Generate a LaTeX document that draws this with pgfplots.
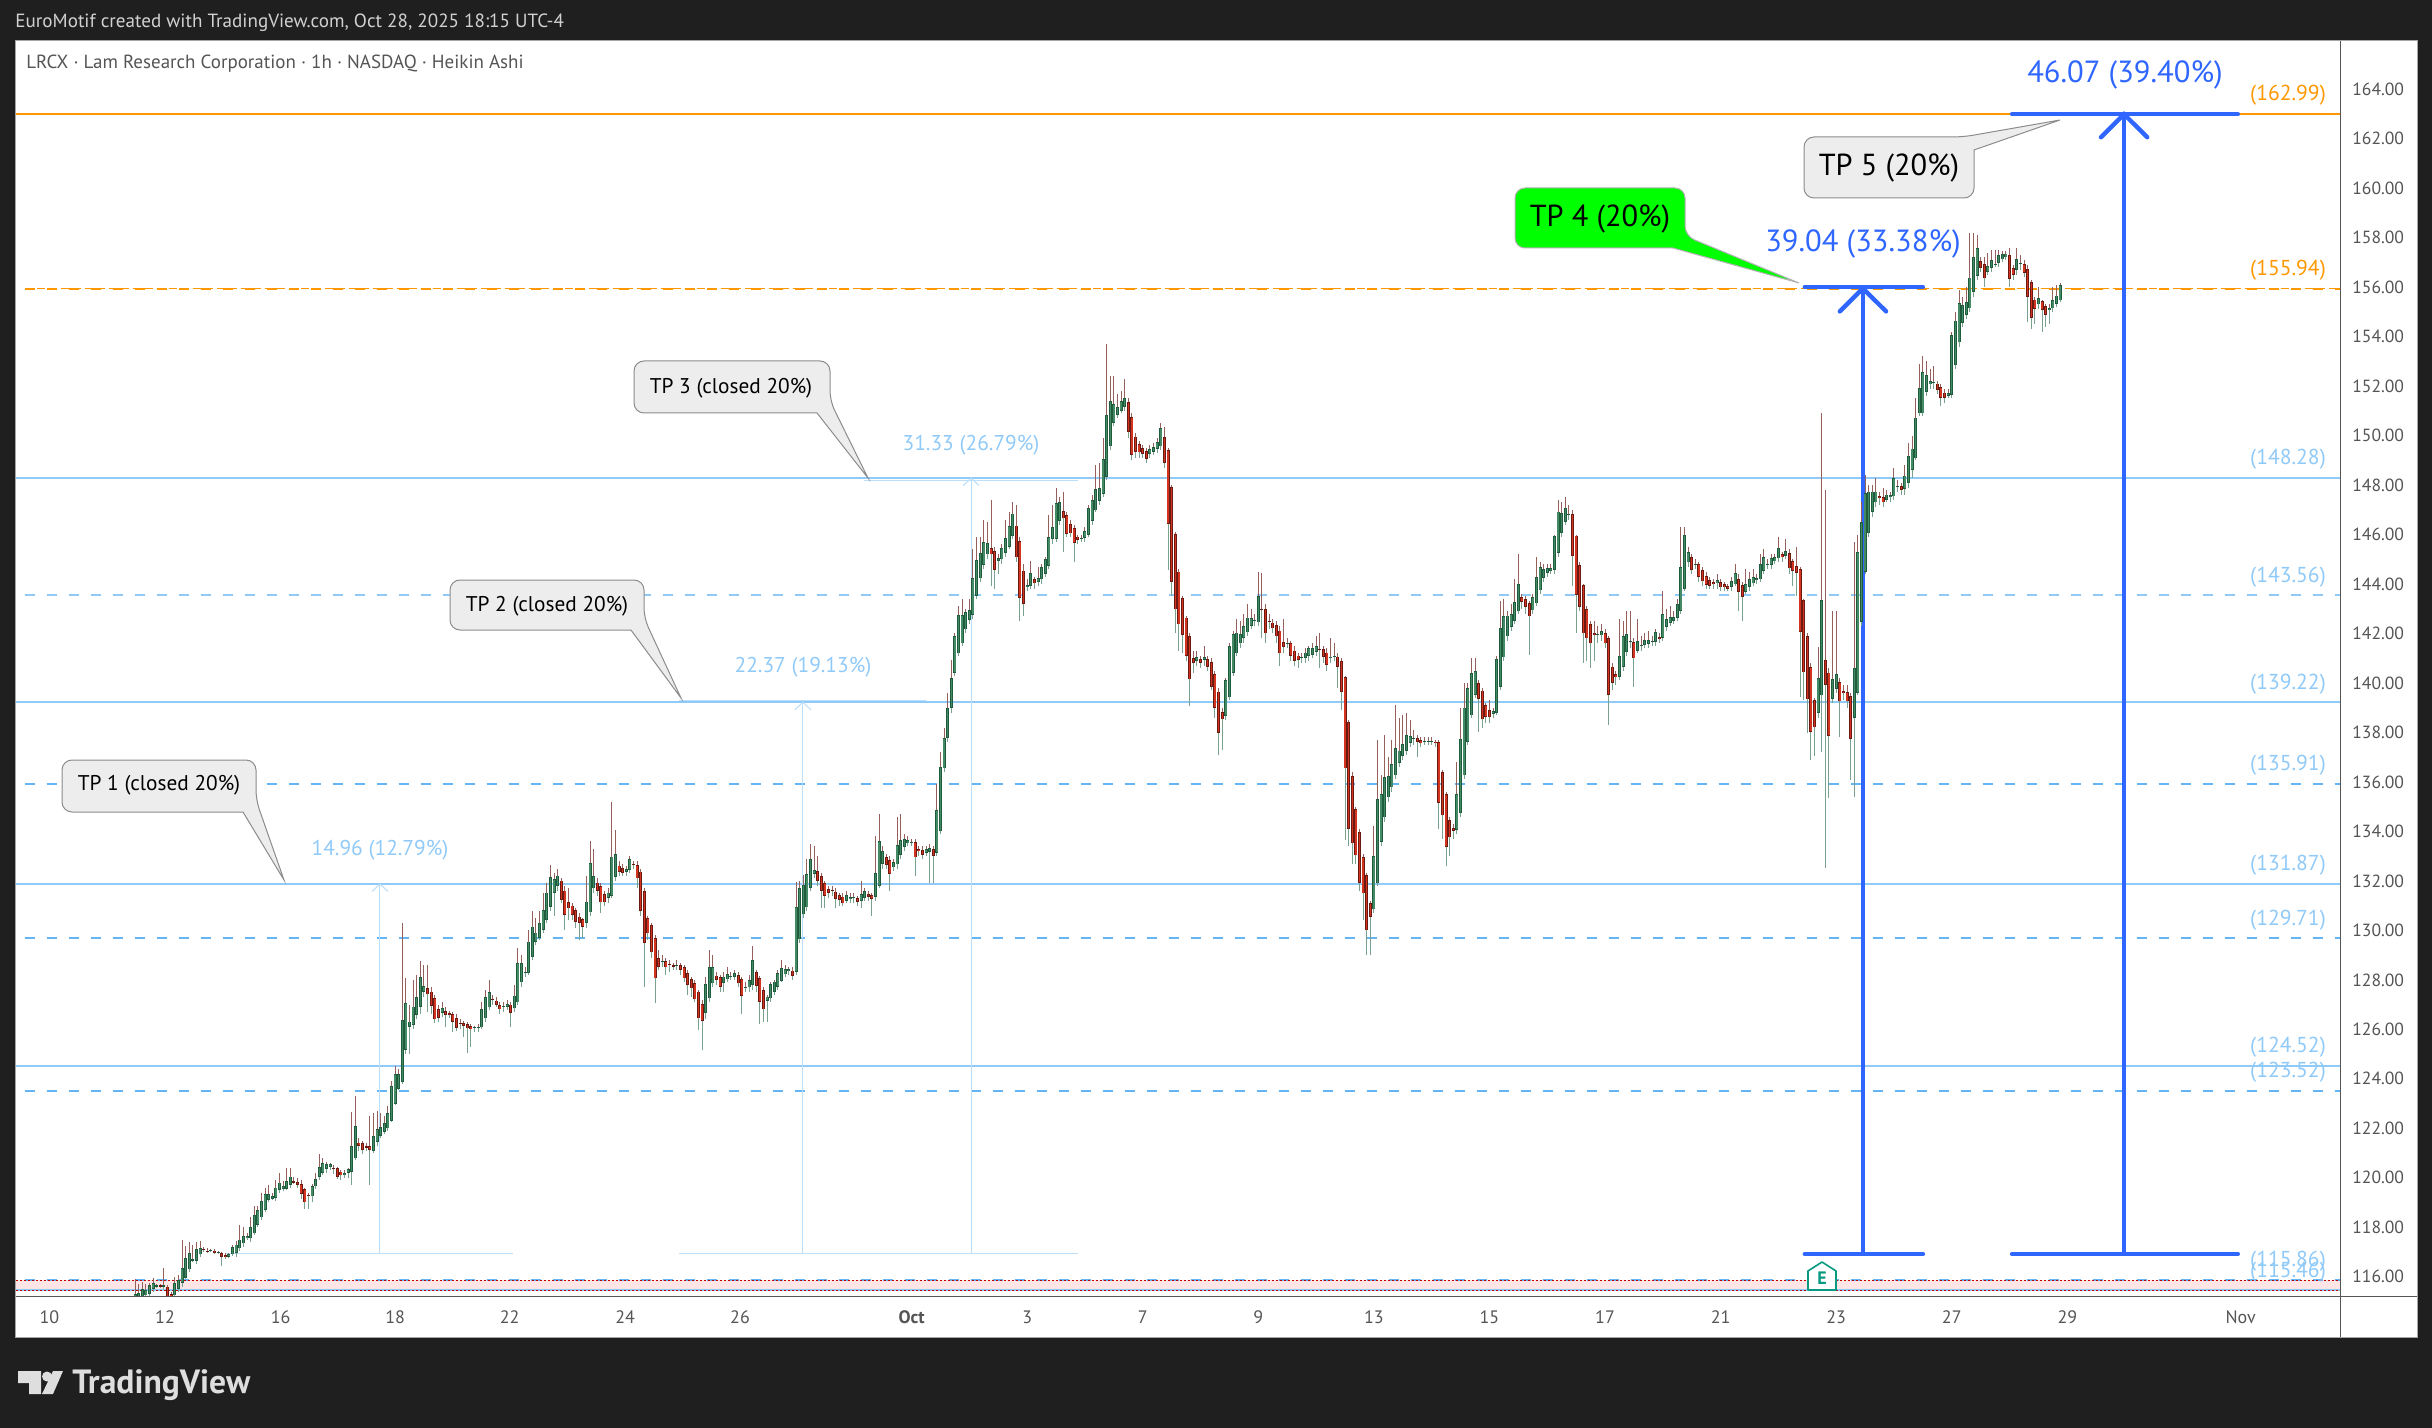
\documentclass[border=0pt]{standalone}
\usepackage{pgfplots}
\usepackage{pgfplotstable}
\usepackage{fontspec}
\setmainfont{PT Sans}
\pgfplotsset{compat=1.18}
\definecolor{dk}{HTML}{1F1F1F}
\definecolor{lb}{HTML}{90CAF9}
\definecolor{mb}{HTML}{64B5F6}
\definecolor{vl}{HTML}{BBDEFB}
\definecolor{org}{HTML}{FF9800}
\definecolor{blu}{HTML}{2F66FF}
\definecolor{upo}{HTML}{1F5C3E}
\definecolor{upi}{HTML}{438A65}
\definecolor{dno}{HTML}{6B1A12}
\definecolor{dni}{HTML}{D2341F}
\definecolor{wkr}{HTML}{95605C}
\definecolor{wkg}{HTML}{7AA08E}
\definecolor{txt}{HTML}{555555}
\definecolor{teal2}{HTML}{089981}
\pgfplotstableread{
o c l h
115.2 115.3 115.1 115.9
115.2 115.35 115.1 115.7
115.2 115.5 115.1 115.8
115.25 115.45 115.1 115.7
115.3 115.65 115.2 115.75
115.5 115.75 115.4 115.95
115.6 115.65 115.55 115.7
115.65 115.6 115.55 115.7
115.6 115.65 115.5 116.35
115.6 115.2 115.1 115.65
115.3 115.2 115.1 115.4
115.25 115.75 115.2 116.0
115.5 115.85 115.4 116.05
115.75 116.35 115.6 117.48
115.95 116.75 115.9 117.25
116.3 116.95 116.2 117.4
116.65 116.7 116.6 117.3
116.65 117.1 116.5 117.4
116.9 117.15 116.8 117.45
117.12 117.07 117.0 117.2
117.05 117.0 116.95 117.15
117.02 117.06 116.98 117.12
117.05 116.95 116.9 117.1
116.96 117.0 116.92 117.05
116.95 116.8 116.45 117.0
116.88 116.78 116.7 116.95
116.8 116.9 116.75 116.95
116.9 117.2 116.85 117.3
116.95 117.3 116.8 117.45
117.15 117.5 117.05 118.1
117.35 117.65 117.2 118.0
117.55 117.65 117.5 117.75
117.55 118.0 117.4 118.4
117.75 118.5 117.7 118.85
118.1 118.7 118.0 118.85
118.4 119.05 118.3 119.4
118.7 119.35 118.6 119.6
119.1 119.35 119.0 119.7
119.15 119.25 119.1 119.4
119.2 119.6 119.05 119.9
119.5 119.8 119.4 120.2
119.55 119.65 119.45 119.85
119.55 119.85 119.5 120.38
119.7 120.05 119.6 120.4
119.85 119.8 119.75 120.05
119.83 119.7 119.6 120.0
119.75 119.35 119.15 119.9
119.55 119.0 118.72 119.6
119.3 119.25 118.72 119.4
119.25 119.65 119.0 119.75
119.65 119.95 119.55 120.2
120.05 120.42 119.9 120.96
120.2 120.6 120.1 120.8
120.35 120.55 120.2 120.65
120.45 120.55 120.3 120.6
120.4 120.35 120.15 120.5
120.4 120.05 119.95 120.45
120.25 120.1 119.9 120.3
120.1 120.2 120.0 120.3
120.2 120.34 120.0 120.4
120.25 121.28 119.7 122.67
120.78 122.09 120.7 123.3
121.42 121.28 121.1 121.6
121.39 121.12 120.95 121.5
121.28 121.22 121.1 121.4
121.28 121.12 119.7 122.5
121.1 121.69 121.0 122.6
121.46 121.96 121.3 122.7
121.7 122.06 121.6 122.6
121.86 122.2 121.75 122.5
122.0 122.6 121.9 122.9
122.3 123.7 122.25 123.9
123.0 124.2 122.95 124.5
123.6 124.2 123.55 124.4
123.88 126.38 123.8 130.3
125.17 127.05 125.0 128.06
126.11 126.31 125.0 127.0
126.18 126.92 126.0 128.0
126.58 127.29 126.4 128.2
126.92 128.1 126.6 128.75
127.52 127.76 127.3 128.6
127.66 127.41 126.7 128.6
127.52 126.96 126.6 127.7
127.25 126.4 126.25 127.4
126.81 126.47 126.3 127.0
126.65 126.85 126.5 127.1
126.74 126.58 126.1 126.9
126.65 126.58 126.45 126.75
126.61 126.31 125.9 126.7
126.45 126.07 125.95 126.6
126.27 126.22 126.0 126.4
126.24 126.13 125.7 126.35
126.22 126.04 125.06 126.3
126.13 126.0 125.3 126.2
126.04 126.09 125.9 126.15
126.07 126.11 125.9 126.2
126.08 126.81 126.0 127.1
126.44 127.29 126.3 127.6
126.89 127.5 126.8 128.0
127.21 127.17 127.0 127.4
127.16 126.98 126.9 127.3
126.98 126.81 126.6 127.1
126.9 126.95 126.7 127.1
126.92 127.01 126.8 127.2
127.0 126.67 126.1 127.1
126.85 127.36 126.7 127.8
127.09 128.67 127.0 129.3
127.9 128.67 127.7 129.0
128.27 128.32 128.1 128.5
128.29 129.54 128.2 130.0
128.94 130.15 128.8 130.8
129.54 129.91 129.4 130.5
129.7 130.29 129.6 130.8
130.02 130.82 129.9 131.5
130.42 131.53 130.3 131.9
130.96 132.15 130.8 132.64
131.53 132.06 130.6 132.3
131.81 132.21 131.6 132.5
132.01 131.23 131.1 132.1
131.61 130.62 130.0 131.8
131.13 130.89 130.4 131.7
131.0 130.62 130.4 131.1
130.82 130.33 130.1 130.9
130.56 130.29 129.6 130.7
130.45 130.15 129.7 130.5
130.29 131.16 130.1 132.2
130.73 132.71 130.6 133.6
131.7 132.2 131.5 133.3
131.93 131.61 131.4 132.1
131.8 131.13 130.7 131.9
131.46 131.13 131.0 131.6
131.3 131.53 131.1 131.7
131.4 132.98 131.3 135.19
132.17 133.07 132.0 134.05
132.62 132.37 132.2 132.8
132.51 132.31 132.2 132.7
132.37 132.47 132.2 132.6
132.44 132.87 132.3 133.0
132.67 132.64 132.5 132.8
132.64 132.1 131.7 132.8
132.37 130.8 130.6 132.5
131.6 129.48 127.73 131.7
130.5 129.88 129.6 130.6
130.2 129.11 128.9 130.3
129.68 128.06 127.08 129.8
128.87 128.53 128.4 129.2
128.72 128.77 128.5 129.0
128.75 128.5 128.2 128.9
128.63 128.58 128.3 128.8
128.59 128.53 128.4 128.7
128.57 128.6 128.4 128.8
128.59 128.4 128.2 128.7
128.51 128.06 127.9 128.6
128.26 127.79 127.4 128.4
128.02 127.66 127.3 128.1
127.86 127.21 127.1 128.0
127.52 126.44 125.97 127.6
127.01 126.35 125.16 127.2
126.65 127.82 126.4 128.1
127.25 128.51 127.1 129.2
127.86 128.51 127.7 129.0
128.17 128.0 127.8 128.3
128.1 127.73 127.5 128.2
127.89 128.13 127.5 128.3
128.02 128.24 127.9 128.5
128.13 128.17 128.0 128.3
128.13 128.26 128.0 128.4
128.2 127.86 127.7 128.3
128.02 127.36 126.6 128.1
127.68 127.72 127.5 127.9
127.7 128.0 127.5 128.2
127.79 128.8 127.6 129.35
128.3 127.75 127.5 128.4
128.06 127.12 126.2 128.15
127.59 126.81 126.3 127.7
127.16 127.32 126.3 127.4
127.25 127.82 127.1 127.9
127.52 127.93 127.4 128.0
127.73 128.26 127.6 128.4
127.97 128.47 127.9 128.8
128.22 128.43 128.1 128.6
128.35 128.43 128.2 128.5
128.37 128.17 128.0 128.5
128.33 130.93 128.2 131.97
129.64 131.7 129.5 132.0
130.65 131.84 130.5 132.25
130.93 132.28 130.8 132.9
131.73 132.89 131.6 133.5
132.28 132.44 132.1 133.4
132.4 132.01 131.8 133.0
132.2 131.61 130.9 132.3
131.9 131.4 130.9 132.0
131.66 131.53 131.3 131.8
131.63 131.58 131.4 131.8
131.57 131.26 130.9 131.7
131.43 131.23 131.0 131.5
131.36 131.09 131.0 131.5
131.2 131.43 131.1 131.6
131.27 131.34 131.1 131.5
131.3 131.34 131.1 131.5
131.3 131.16 131.0 131.4
131.2 131.47 130.9 132.0
131.3 131.6 131.2 131.7
131.46 131.36 131.2 131.6
131.43 131.26 130.6 131.5
131.34 132.31 131.2 133.8
131.81 133.61 131.7 134.7
132.68 133.21 132.5 133.4
132.95 132.64 132.5 133.1
132.85 132.28 131.6 133.0
132.55 132.75 132.4 132.9
132.67 133.45 132.5 134.6
133.05 133.65 132.9 134.7
133.36 133.7 133.2 133.9
133.52 133.65 133.4 133.8
133.54 133.58 133.4 133.7
133.56 132.95 132.2 133.7
133.29 133.21 133.0 133.4
133.25 133.05 132.9 133.4
133.14 133.28 133.0 133.4
133.18 133.32 131.9 133.5
133.28 133.02 131.9 133.4
133.14 134.87 133.0 135.9
134.0 136.59 133.9 137.2
136.55 137.77 136.4 138.2
137.77 138.98 137.6 139.6
138.98 140.19 138.8 140.93
140.42 141.9 140.3 142.0
141.2 142.75 141.1 143.1
141.6 142.75 141.5 143.4
142.17 142.85 142.0 143.0
142.55 142.95 142.4 143.4
142.75 144.23 142.6 145.4
143.52 144.98 143.4 145.9
144.23 145.25 144.1 145.9
144.77 145.69 144.6 146.6
145.2 145.65 145.0 146.5
145.45 145.2 143.9 147.4
145.34 144.57 143.8 145.5
144.95 145.04 144.4 145.2
145.0 145.45 144.8 145.6
145.25 145.85 145.1 146.6
145.5 146.35 145.4 146.9
145.95 146.84 145.8 147.3
146.36 145.08 144.9 147.2
145.73 143.43 142.5 145.9
144.54 143.2 142.7 144.8
143.87 143.96 143.7 144.2
143.92 144.44 143.8 144.95
144.19 144.03 143.8 144.3
144.1 144.23 143.9 144.7
144.19 144.68 144.0 144.8
144.41 145.0 144.3 145.1
144.73 145.89 144.6 146.8
145.81 146.3 145.6 147.2
145.81 147.27 145.7 147.9
146.55 147.31 146.4 147.5
146.94 146.65 145.3 147.7
146.77 146.03 145.9 146.9
146.43 146.05 145.9 146.6
146.26 145.65 144.9 146.4
145.92 145.79 145.6 146.0
145.84 145.88 145.7 146.0
145.86 146.13 145.7 146.3
146.0 147.06 145.9 147.2
146.54 147.4 146.4 147.6
146.98 147.83 146.9 148.8
147.37 147.87 147.2 148.9
147.64 149.05 147.5 149.9
148.32 150.84 148.2 153.7
149.56 151.38 149.4 152.4
150.5 151.27 150.4 152.4
150.85 151.15 150.7 151.7
151.0 151.38 150.9 151.8
151.17 151.51 151.0 152.3
151.34 150.16 149.9 151.5
150.74 149.22 149.0 150.9
149.96 149.33 149.1 150.1
149.65 149.32 149.1 149.8
149.49 149.25 149.1 149.6
149.37 149.07 148.9 149.5
149.25 149.45 149.1 149.6
149.35 149.53 149.2 149.7
149.45 149.73 149.3 149.9
149.56 150.3 149.4 150.5
149.94 148.91 148.7 150.35
149.4 146.42 144.57 149.5
147.91 144.1 143.5 148.0
146.01 142.98 142.0 146.1
144.5 142.37 141.3 144.6
143.43 141.93 141.2 143.5
142.64 141.11 140.9 142.7
141.88 140.15 139.05 142.0
141.0 140.8 140.4 141.3
140.9 141.04 140.7 141.3
140.96 140.82 140.6 141.1
140.93 141.04 140.7 141.5
140.96 140.66 140.5 141.1
140.84 139.85 139.7 141.0
140.35 138.98 138.6 140.5
139.65 137.99 137.08 139.8
138.82 138.53 137.3 139.0
138.68 140.1 138.5 140.2
139.42 141.5 139.3 141.6
140.42 141.97 140.3 142.1
141.2 142.04 141.1 142.6
141.6 141.97 141.4 142.5
141.81 142.31 141.6 142.8
142.05 142.64 141.9 143.2
142.32 142.62 142.2 143.0
142.49 142.53 142.3 142.8
142.45 143.52 142.3 144.5
142.98 142.93 141.8 144.45
142.98 142.01 141.6 143.2
142.52 142.47 142.2 142.8
142.44 142.21 142.0 142.6
142.33 141.88 141.6 142.5
142.12 141.2 140.7 142.3
141.65 141.47 141.2 142.6
141.58 141.62 141.4 141.8
141.6 141.09 140.9 141.7
141.31 140.9 140.7 141.5
141.11 140.93 140.6 141.2
141.02 141.06 140.8 141.2
141.0 141.23 140.8 141.4
141.09 141.4 140.9 141.5
141.14 141.4 141.0 141.6
141.27 141.5 141.1 141.9
141.36 141.32 140.6 142.0
141.36 141.07 140.8 141.5
141.23 140.72 140.5 141.4
141.0 141.07 140.8 141.8
141.05 141.09 140.9 141.6
141.07 140.66 139.8 141.2
140.88 139.63 138.9 141.0
140.23 136.55 133.65 140.3
138.41 134.09 133.4 138.5
136.23 133.52 132.7 136.4
134.9 133.03 132.7 135.0
133.96 131.93 131.6 134.1
132.95 131.5 130.4 133.1
132.23 130.0 129.0 132.3
131.09 130.56 129.0 131.2
130.85 133.0 130.7 134.2
131.9 135.3 131.8 137.7
133.59 135.5 133.4 136.3
134.57 136.19 134.4 137.9
135.38 136.23 135.2 137.0
135.78 136.71 135.6 137.7
136.27 137.36 136.1 139.1
136.78 137.27 136.6 138.6
137.04 137.52 136.9 138.7
137.27 137.89 137.1 138.8
137.59 137.86 137.4 138.5
137.73 137.77 137.5 138.1
137.77 137.63 137.0 137.9
137.7 137.56 137.4 137.8
137.62 137.66 137.5 137.8
137.63 137.67 137.5 137.8
137.63 137.67 137.5 137.8
137.63 137.56 137.4 137.7
137.6 135.16 134.1 137.7
136.39 134.65 133.7 136.5
135.5 133.38 132.6 135.6
134.45 133.76 133.0 134.6
134.13 134.03 133.7 134.3
134.07 135.5 133.9 136.8
134.76 137.73 134.6 139.0
136.27 139.0 136.1 140.0
137.63 139.79 137.5 140.0
138.69 140.39 138.6 141.0
139.53 140.47 139.4 141.0
140.0 139.37 138.03 140.1
139.69 138.53 138.2 139.8
139.1 138.64 138.4 139.2
138.9 138.61 138.4 139.3
138.74 138.87 138.6 139.0
138.78 140.96 138.7 141.1
139.85 142.21 139.7 143.3
141.03 142.7 140.9 143.4
141.88 142.72 141.7 142.9
142.28 142.78 142.1 143.2
142.52 143.26 142.4 144.2
142.89 144.0 142.8 145.2
143.47 143.29 143.0 143.6
143.39 143.09 142.8 143.5
143.22 142.69 141.13 143.3
142.93 143.47 142.8 143.6
143.22 144.27 143.1 145.1
143.74 144.67 143.6 144.9
144.24 144.6 144.1 144.8
144.44 144.64 144.3 144.8
144.52 144.64 144.4 144.8
144.56 145.93 144.4 146.0
145.25 146.93 145.1 147.4
146.08 146.86 145.9 147.3
146.5 147.06 146.4 147.5
146.77 146.82 146.6 147.2
146.82 145.15 143.9 147.0
145.96 143.56 142.0 146.0
144.76 143.09 142.9 144.9
143.95 142.01 140.8 144.0
142.98 141.8 140.9 143.1
142.37 141.6 140.6 142.5
142.01 141.92 140.9 142.5
141.95 141.99 141.6 142.3
141.92 142.09 141.7 142.4
142.01 141.6 141.4 142.2
141.81 139.53 138.3 141.9
140.66 139.99 139.7 140.8
140.37 140.23 139.9 140.5
140.26 141.08 140.1 142.6
140.66 141.9 140.5 142.5
141.27 141.97 141.1 142.9
141.64 141.68 141.4 142.9
141.65 140.99 139.85 141.8
141.31 141.69 141.2 142.6
141.51 141.55 141.3 141.9
141.53 141.74 141.4 142.0
141.59 141.74 141.4 142.1
141.67 141.71 141.5 141.9
141.65 142.06 141.5 142.2
141.85 141.77 141.6 142.0
141.81 142.78 141.7 143.7
142.28 142.58 142.1 143.0
142.44 142.66 142.3 143.1
142.52 142.66 142.4 142.9
142.62 143.18 142.5 143.4
142.9 144.68 142.8 146.3
143.79 145.97 143.7 146.3
144.88 145.28 144.7 145.5
145.08 144.56 144.4 145.2
144.78 144.82 144.6 145.0
144.8 144.3 144.1 144.9
144.56 144.11 143.9 144.7
144.32 143.98 143.8 144.5
144.15 143.94 143.8 144.3
144.07 143.99 143.8 144.2
144.03 144.17 143.8 144.4
144.07 143.86 143.7 144.2
143.99 143.86 143.7 144.1
143.91 143.79 143.7 144.0
143.87 144.11 143.7 144.3
143.99 144.44 143.9 144.8
144.19 143.69 142.9 144.4
143.95 143.47 142.52 144.1
143.69 143.99 143.6 144.6
143.87 144.19 143.7 144.5
144.03 144.27 143.9 144.6
144.17 144.24 144.0 144.4
144.19 144.8 144.1 145.2
144.52 145.08 144.4 145.4
144.78 144.82 144.6 145.0
144.76 145.04 144.6 145.2
144.92 145.08 144.8 145.2
145.04 145.45 144.9 145.9
145.2 145.08 144.9 145.3
145.15 145.34 145.0 145.8
145.25 144.63 144.4 145.4
144.92 144.52 143.9 145.0
144.72 144.44 143.5 145.5
144.6 142.08 139.45 144.7
143.34 140.43 139.3 143.4
141.89 139.34 137.97 142.0
140.64 138.01 136.9 140.8
139.3 138.21 137.05 139.4
138.78 140.19 138.6 141.47
139.5 143.34 137.2 150.9
140.92 139.91 132.54 147.8
140.42 137.85 135.36 140.6
139.37 140.15 139.2 142.9
139.75 140.35 139.6 142.9
140.03 139.26 137.8 140.2
139.66 139.58 139.3 139.9
139.63 139.26 139.0 139.9
139.46 137.73 136.08 139.6
138.6 140.6 135.4 145.7
139.6 145.3 139.5 146.0
142.46 146.5 142.3 147.3
144.49 147.66 144.4 148.4
146.06 147.73 145.9 148.0
146.92 147.73 146.7 148.0
147.3 147.73 147.1 148.3
147.54 147.46 147.2 147.7
147.5 147.3 147.1 147.9
147.41 147.61 147.3 147.8
147.5 147.58 147.3 147.7
147.54 148.28 147.4 148.7
147.94 147.98 147.7 148.2
147.95 147.81 147.6 148.1
147.84 148.38 147.6 148.8
148.1 149.16 147.9 149.7
148.62 149.47 148.3 150.0
149.08 150.73 149.0 151.5
150.9 151.91 150.8 152.9
150.9 152.56 150.8 153.2
151.76 152.44 151.6 153.0
152.07 152.2 151.9 152.7
152.11 152.15 151.9 152.8
152.1 151.84 151.7 152.2
151.97 151.51 151.2 152.1
151.74 151.51 151.3 151.9
151.6 151.71 151.5 151.9
151.66 154.07 151.5 154.2
152.87 154.65 152.7 155.0
153.77 155.35 153.6 155.9
154.57 155.27 154.4 155.6
154.88 155.38 154.7 156.0
155.14 156.38 155.0 158.2
155.81 157.2 155.6 158.2
156.47 157.57 156.3 158.1
157.05 156.78 156.6 157.2
156.92 156.35 156.0 157.2
156.63 156.86 156.5 157.4
156.77 157.08 156.6 157.5
156.91 156.95 156.8 157.5
156.97 157.28 156.8 157.5
157.12 157.32 157.0 157.45
157.2 157.35 157.1 157.45
157.28 156.32 156.0 157.6
156.78 156.5 156.3 156.9
156.7 157.13 156.5 157.6
156.92 156.96 156.7 157.3
156.92 156.58 156.4 157.1
156.74 155.62 154.6 156.9
156.2 154.77 154.3 156.3
155.5 155.11 154.5 155.6
155.3 155.55 155.1 156.0
155.42 155.07 154.2 155.5
155.22 154.88 154.4 155.3
155.07 155.16 154.5 155.3
155.14 155.47 155.0 156.0
155.32 155.66 155.2 156.1
155.47 156.07 155.4 156.15
}\candles
% Split the table into per-candle segment lists (one path per style keeps memory low)
\pgfplotstableforeachcolumnelement{o}\of\candles\as\cell{\expandafter\xdef\csname cO\pgfplotstablerow\endcsname{\cell}}
\pgfplotstableforeachcolumnelement{c}\of\candles\as\cell{\expandafter\xdef\csname cC\pgfplotstablerow\endcsname{\cell}}
\pgfplotstableforeachcolumnelement{l}\of\candles\as\cell{\expandafter\xdef\csname cL\pgfplotstablerow\endcsname{\cell}}
\pgfplotstableforeachcolumnelement{h}\of\candles\as\cell{\expandafter\xdef\csname cH\pgfplotstablerow\endcsname{\cell}}
\pgfplotstablegetrowsof{\candles}\edef\Nrows{\pgfplotsretval}
\gdef\lWR{}\gdef\lWG{}\gdef\lUO{}\gdef\lDO{}\gdef\lUI{}\gdef\lDI{}
\newcount\ci \ci=0
\def\seg#1#2#3{\xdef#1{#1(\the\ci,#2)(\the\ci,#3)(\the\ci,nan)}}
\loop
  \edef\vO{\csname cO\the\ci\endcsname}\edef\vC{\csname cC\the\ci\endcsname}%
  \edef\vL{\csname cL\the\ci\endcsname}\edef\vH{\csname cH\the\ci\endcsname}%
  \ifdim\vC pt<\vO pt\let\vT\vO\let\vB\vC\else\let\vT\vC\let\vB\vO\fi
  \seg\lWR\vT\vH \seg\lWG\vL\vB
  \pgfmathsetmacro\vA{\vB+0.03}\pgfmathsetmacro\vZ{\vT-0.03}%
  \ifdim\vC pt<\vO pt
    \seg\lDO\vB\vT
    \ifdim\vZ pt>\vA pt\seg\lDI\vA\vZ\fi
  \else
    \seg\lUO\vB\vT
    \ifdim\vZ pt>\vA pt\seg\lUI\vA\vZ\fi
  \fi
  \advance\ci by 1
\ifnum\ci<\Nrows\repeat
\def\pl#1#2{\expandafter\plx\expandafter{#1}{#2}}
\def\plx#1#2{\addplot[#2, no marks, forget plot, unbounded coords=jump] coordinates {#1};}
\begin{document}
\begin{tikzpicture}
\useasboundingbox (0,0) rectangle (1216pt,-714pt);
\fill[dk] (0,0) rectangle (1216pt,-714pt);
\begin{scope}[x=0.5pt,y=-0.5pt]
\fill[white] (15.5,41) rectangle (2417,1337);
\end{scope}
\begin{axis}[
  at={(7.75pt,-20.5pt)}, anchor=north west, scale only axis,
  width=1162.25pt, height=627.5pt,
  xmin=-33.1, xmax=610.5, ymin=115.22, ymax=165.95,
  axis line style={draw=none},
  major tick length=0pt,
  xtick={-23.7,8.3,40.3,72,103.7,135.7,167.5,215,247,279,311,343,375,407,439,471,503,535,583},
  xticklabels={10,12,16,18,22,24,26,\textbf{Oct},3,7,9,13,15,17,21,23,27,29,Nov},
  ytick={116,118,...,164},
  yticklabel pos=right,
  /pgf/number format/assume math mode=true,
  /pgf/number format/fixed, /pgf/number format/fixed zerofill, /pgf/number format/precision=2,
  /pgf/number format/1000 sep={},
  xticklabel style={yshift=-3.8pt, text=txt, font=\fontsize{9pt}{11pt}\selectfont},
  yticklabel style={xshift=2.6pt, text=txt, font=\fontsize{8.8pt}{11pt}\selectfont},
]
% band and levels
\addplot[draw=none, fill=red!10!white] coordinates {(-33.1,115.46) (610.5,115.46) (610.5,115.86) (-33.1,115.86)} -- cycle;
\addplot[lb, line width=1pt] coordinates {(-33.1,115.46) (610.5,115.46)};
\addplot[mb, line width=1pt, dash pattern=on 5pt off 6pt] coordinates {(-30.6,115.86) (610.5,115.86)};
\addplot[red!75!black, line width=0.5pt, dash pattern=on 1pt off 1pt] coordinates {(-33.1,115.86) (610.5,115.86)};
\addplot[red!75!black, line width=0.5pt, dash pattern=on 1pt off 1pt] coordinates {(-33.1,115.46) (610.5,115.46)};
\addplot[mb, line width=1pt, dash pattern=on 5pt off 6pt] coordinates {(-30.6,123.52) (610.5,123.52)};
\addplot[lb, line width=1pt] coordinates {(-33.1,124.52) (610.5,124.52)};
\addplot[mb, line width=1pt, dash pattern=on 5pt off 6pt] coordinates {(-30.6,129.71) (610.5,129.71)};
\addplot[lb, line width=1pt] coordinates {(-33.1,131.87) (610.5,131.87)};
\addplot[mb, line width=1pt, dash pattern=on 5pt off 6pt] coordinates {(-30.6,135.91) (610.5,135.91)};
\addplot[lb, line width=1pt] coordinates {(-33.1,139.22) (610.5,139.22)};
\addplot[lb, line width=1pt, dash pattern=on 5pt off 6pt] coordinates {(-30.6,143.56) (610.5,143.56)};
\addplot[lb, line width=1pt] coordinates {(-33.1,148.28) (610.5,148.28)};
\addplot[org, line width=0.5pt, dash pattern=on 4pt off 2pt] coordinates {(-30.6,155.94) (610.5,155.94)};
\addplot[org, line width=1pt, dash pattern=on 5pt off 6pt] coordinates {(-30.6,155.94) (610.5,155.94)};
\addplot[org, line width=1pt] coordinates {(-33.1,162.99) (610.5,162.99)};
% faint measuring tools
\addplot[vl, line width=0.5pt] coordinates {(24.9,116.92) (104.7,116.92)};
\addplot[vl, line width=0.5pt] coordinates {(67.8,116.92) (67.8,131.87)};
\addplot[vl, line width=0.5pt] coordinates {(65.6,131.57) (67.8,131.87) (70,131.57)};
\addplot[vl, line width=0.5pt] coordinates {(150.6,116.92) (219,116.92)};
\addplot[vl, line width=0.5pt] coordinates {(184.9,116.92) (184.9,139.22)};
\addplot[vl, line width=0.5pt] coordinates {(182.7,138.92) (184.9,139.22) (187.1,138.92)};
\addplot[vl, line width=0.5pt] coordinates {(150.6,139.3) (219,139.3)};
\addplot[vl, line width=0.5pt] coordinates {(201.8,116.92) (261,116.92)};
\addplot[vl, line width=0.5pt] coordinates {(231.5,116.92) (231.5,148.28)};
\addplot[vl, line width=0.5pt] coordinates {(229.3,147.98) (231.5,148.28) (233.7,147.98)};
\addplot[vl, line width=0.5pt] coordinates {(201.8,148.2) (261,148.2)};
% bold measuring tools
\addplot[blu, line width=2.2pt, line cap=round] coordinates {(462.3,116.92) (495,116.92)};
\addplot[blu, line width=2.2pt] coordinates {(478.4,116.92) (478.4,155.95)};
\addplot[blu, line width=2.2pt, line cap=round] coordinates {(472,155.02) (478.4,155.95) (484.8,155.02)};
\addplot[blu, line width=2.2pt, line cap=round] coordinates {(462.3,156) (495,156)};
\addplot[blu, line width=2.2pt, line cap=round] coordinates {(519.7,116.92) (582.2,116.92)};
\addplot[blu, line width=2.2pt] coordinates {(550.7,116.92) (550.7,162.99)};
\addplot[blu, line width=2.2pt, line cap=round] coordinates {(544.3,162.06) (550.7,162.99) (557.1,162.06)};
\addplot[blu, line width=2.2pt, line cap=round] coordinates {(519.7,162.99) (582.2,162.99)};
% candles
\pl\lWR{wkr, line width=0.5pt}
\pl\lWG{wkg, line width=0.5pt}
\pl\lUO{upo, line width=1.5pt}
\pl\lDO{dno, line width=1.5pt}
\pl\lUI{upi, line width=0.7pt}
\pl\lDI{dni, line width=0.7pt}
\end{axis}
\begin{scope}[x=0.5pt,y=-0.5pt]
% frame
\draw[color=txt, line width=0.5pt] (15.5,1296) -- (2417,1296);
\draw[color=txt, line width=0.5pt] (2340,41) -- (2340,1337);
\draw[color=gray!70, line width=0.5pt] (15.5,41) rectangle (2417,1337);
% header
\node[anchor=west, inner sep=0pt, text=white!82!black, font=\fontsize{9.55pt}{11pt}\selectfont] at (15,23) {EuroMotif created with TradingView.com, Oct 28, 2025 18:15 UTC-4};
\node[anchor=west, inner sep=0pt, text=txt, font=\fontsize{9.5pt}{11pt}\selectfont] at (26,64) {LRCX · Lam Research Corporation · 1h · NASDAQ · Heikin Ashi};
% right labels
\foreach \y/\t in {95/162.99,270/155.94}
  \node[text=org, font=\fontsize{10.8pt}{12pt}\selectfont] at (2288,\y) {(\t)};
\foreach \y/\t in {459/148.28,577/143.56,684/139.22,765/135.91,865/131.87,920/129.71,1047/124.52,1072/123.52,1261/115.86,1272/115.46}
  \node[text=lb, font=\fontsize{10.8pt}{12pt}\selectfont] at (2288,\y) {(\t)};
% tool labels
\node[text=lb, font=\fontsize{10.7pt}{12pt}\selectfont] at (380,850) {14.96 (12.79\%)};
\node[text=lb, font=\fontsize{10.7pt}{12pt}\selectfont] at (803,667) {22.37 (19.13\%)};
\node[text=lb, font=\fontsize{10.7pt}{12pt}\selectfont] at (971,445) {31.33 (26.79\%)};
\node[text=blu, font=\fontsize{15.3pt}{17pt}\selectfont] at (1863,244) {39.04 (33.38\%)};
\node[text=blu, font=\fontsize{15.3pt}{17pt}\selectfont] at (2125,75) {46.07 (39.40\%)};
% callouts
\draw[fill=black!7, draw=gray!90, line width=0.5pt, rounded corners=5pt] (62,760) -- (256,760) -- (256,800) [sharp corners] -- (284,880) -- (243,812) [rounded corners=5pt] -- (62,812) -- cycle;
\node[font=\fontsize{10.65pt}{12pt}\selectfont] at (159,785) {TP 1 (closed 20\%)};
\draw[fill=black!7, draw=gray!90, line width=0.5pt, rounded corners=5pt] (450,580) -- (644,580) -- (644,618) [sharp corners] -- (681,698) -- (631,630) [rounded corners=5pt] -- (450,630) -- cycle;
\node[font=\fontsize{10.65pt}{12pt}\selectfont] at (547,606) {TP 2 (closed 20\%)};
\draw[fill=black!7, draw=gray!90, line width=0.5pt, rounded corners=5pt] (634,361) -- (830,361) -- (830,401) [sharp corners] -- (868,478) -- (817,413) [rounded corners=5pt] -- (634,413) -- cycle;
\node[font=\fontsize{10.65pt}{12pt}\selectfont] at (731,388) {TP 3 (closed 20\%)};
\draw[fill={rgb,255:red,0;green,255;blue,0}, draw=gray!60, line width=0.5pt, rounded corners=5pt] (1515,188) -- (1685,188) -- (1685,236) [sharp corners] -- (1799,283) -- (1673,248) [rounded corners=5pt] -- (1515,248) -- cycle;
\node[font=\fontsize{15.2pt}{17pt}\selectfont] at (1600,219) {TP 4 (20\%)};
\draw[fill=black!7, draw=gray!90, line width=0.5pt, rounded corners=5pt] (1804,137) -- (1963,137) [sharp corners] -- (2060,120) -- (1974,150) [rounded corners=5pt] -- (1974,198) -- (1804,198) -- cycle;
\node[font=\fontsize{15.2pt}{17pt}\selectfont] at (1889,168) {TP 5 (20\%)};
% earnings badge
\draw[fill=white, draw=teal2, line width=0.8pt, line join=round] (1822,1262) -- (1836,1271) -- (1836,1290) -- (1808,1290) -- (1808,1271) -- cycle;
\node[text=teal2, font=\fontsize{9pt}{10pt}\bfseries\selectfont] at (1822,1278) {E};
% logo
\fill[white!87!black] (18,1371) -- (41,1371) -- (41,1394) -- (29,1394) -- (29,1383) -- (18,1383) -- cycle;
\fill[white!87!black] (47,1376.5) circle (5);
\fill[white!87!black] (53,1371) -- (63,1371) -- (53,1394) -- (42,1394) -- cycle;
\node[anchor=west, inner sep=0pt, text=white!87!black, font=\fontsize{16.8pt}{19pt}\selectfont\bfseries] at (72,1385) {TradingView};
\end{scope}
\end{tikzpicture}
\end{document}
